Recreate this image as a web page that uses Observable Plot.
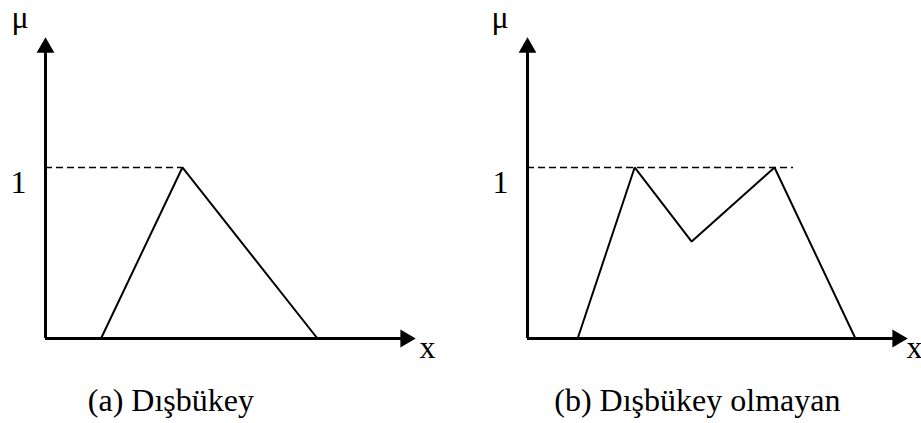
<!DOCTYPE html>
<html>
<head>
<meta charset="utf-8">
<script src="https://cdn.jsdelivr.net/npm/d3@7"></script>
<script src="https://cdn.jsdelivr.net/npm/@observablehq/plot@0.6"></script>
<style>
  html, body { margin: 0; padding: 0; background: #fff; }
  #wrap { display: flex; width: 921px; height: 423px; }
  svg { display: block; overflow: visible; }
</style>
</head>
<body>
<div id="wrap"></div>
<script>
// Panel (a): convex membership function
const convexX  = [15, 37, 73.5];
const convexMu = [0, 1, 0];
// Panel (b): non-convex membership function
const nonConvexX  = [13.2, 28.2, 43.2, 65, 86.3];
const nonConvexMu = [0, 1, 0.567, 1, 0];
// dashed reference line at mu = 1 (end x)
const dashEnd = [37, 70];
const captions = ["(a) Dışbükey", "(b) Dışbükey olmayan"];
const captionX = [33.9, 44.7];
const yTop = 1.76;
const font = "Liberation Serif, Times New Roman, serif";
const fs = 32;

function panel(xs, mus, dEnd, caption, capX, opts) {
  const pts = xs.map((x, i) => ({x, mu: mus[i]}));
  return Plot.plot({
    width: opts.width,
    height: 423,
    marginLeft: opts.ml,
    marginRight: opts.mr,
    marginTop: 37,
    marginBottom: 85,
    x: {domain: [0, 100], axis: null},
    y: {domain: [0, yTop], axis: null},
    style: {fontFamily: font, background: "#fff", overflow: "visible"},
    marks: [
      Plot.ruleY([1], {x1: 0, x2: dEnd, stroke: "#000", strokeWidth: 1.6, strokeDasharray: "7,4"}),
      Plot.line(pts, {x: "x", y: "mu", stroke: "#000", strokeWidth: 2, strokeLinejoin: "miter"}),
      Plot.ruleX([0], {y1: 0, y2: yTop * 0.97, stroke: "#000", strokeWidth: 3}),
      Plot.ruleY([0], {x1: 0, x2: 97, stroke: "#000", strokeWidth: 3}),
      Plot.dot([{x: 0, y: yTop}], {x: "x", y: "y", symbol: "triangle", r: 6.6, fill: "#000", stroke: "none", dy: 10}),
      Plot.dot([{x: 100, y: 0}], {x: "x", y: "y", symbol: "triangle", r: 6.6, fill: "#000", stroke: "none", rotate: 90, dx: -10}),
      Plot.text(["μ"], {x: () => 0, y: () => yTop, text: d => d, dx: opts.muDx, dy: -20, fontSize: fs, textAnchor: "middle", fill: "#000"}),
      Plot.text(["1"], {x: () => 0, y: () => 1, text: d => d, dx: -19, dy: 15, fontSize: fs, textAnchor: "end", fill: "#000"}),
      Plot.text(["x"], {x: () => 100, y: () => 0, text: d => d, dx: opts.xDx, dy: 9, fontSize: fs, textAnchor: "start", fill: "#000"}),
      Plot.text([caption], {x: () => capX, y: () => 0, text: d => d, dy: 62, fontSize: fs, textAnchor: "middle", fill: "#000"})
    ]
  });
}

const wrap = document.getElementById("wrap");
wrap.appendChild(panel(convexX, convexMu, dashEnd[0], captions[0], captionX[0], {width: 460, ml: 45, mr: 45, muDx: -25.5, xDx: 4}));
wrap.appendChild(panel(nonConvexX, nonConvexMu, dashEnd[1], captions[1], captionX[1], {width: 461, ml: 67, mr: 14, muDx: -27.5, xDx: -1}));
</script>
</body>
</html>
